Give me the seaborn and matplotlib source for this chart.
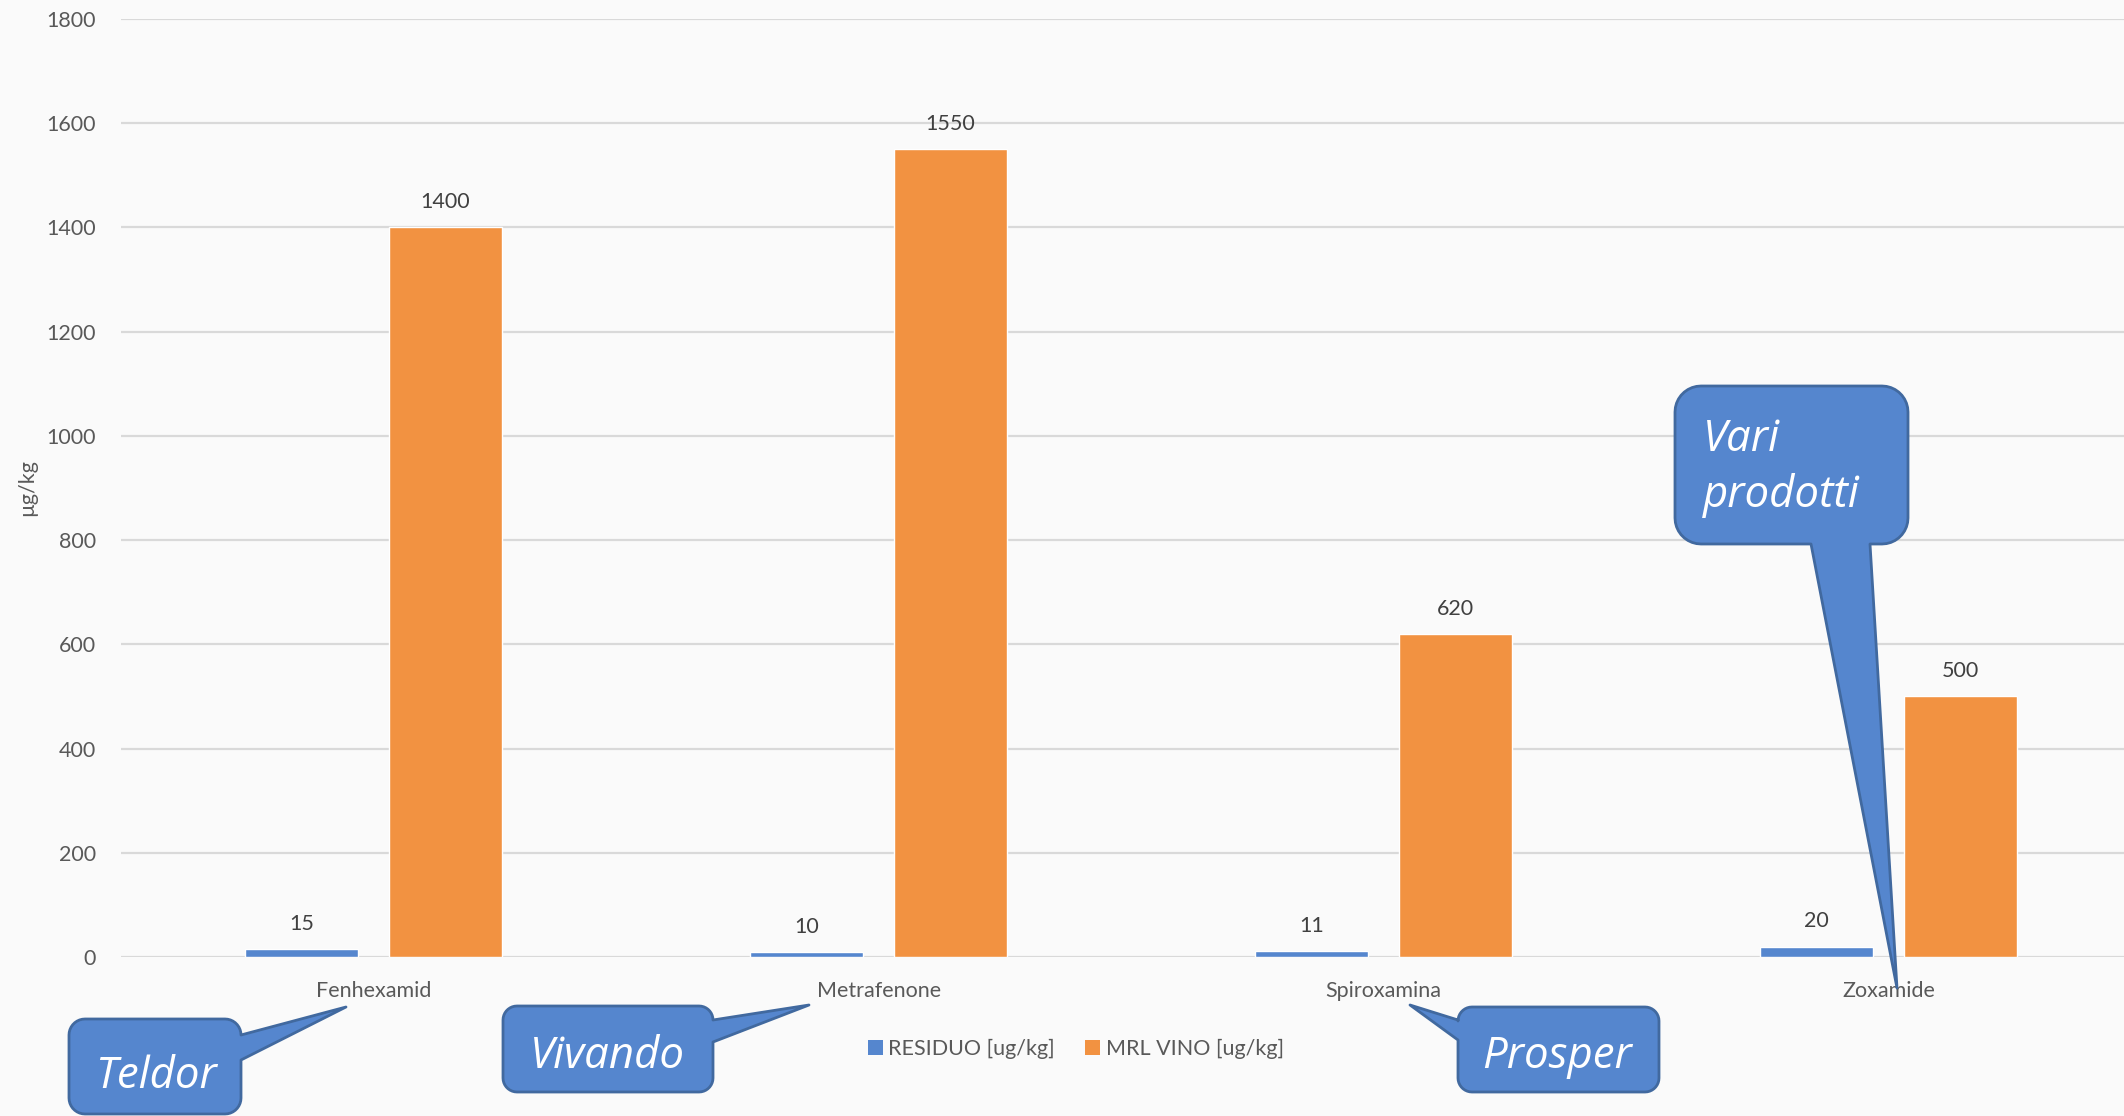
import numpy as np
import pandas as pd
import matplotlib
matplotlib.use("Agg")
import matplotlib.pyplot as plt
from matplotlib.patches import Polygon, Patch
import seaborn as sns

# Data
categories = ["Fenhexamid", "Metrafenone", "Spiroxamina", "Zoxamide"]
residuo = [15, 10, 11, 20]
mrl_vino = [1400, 1550, 620, 500]
series_names = ["RESIDUO [ug/kg]", "MRL VINO [ug/kg]"]
y_ticks = [0, 200, 400, 600, 800, 1000, 1200, 1400, 1600, 1800]

BLUE = "#5586CE"
ORANGE = "#F29241"
BG = "#FAFAFA"
GRID = "#D9D9D9"
TXT = "#595959"
LBL = "#404040"
EDGE = "#41699F"

df = pd.DataFrame({
    "Principio": categories * 2,
    "Valore": residuo + mrl_vino,
    "Serie": [series_names[0]] * len(categories) + [series_names[1]] * len(categories),
})

sns.set_theme(style="white")
plt.rcParams["font.family"] = ["Lato", "DejaVu Sans"]

W, H = 2124, 1116
fig = plt.figure(figsize=(W / 100, H / 100), dpi=100, facecolor=BG)
ax = fig.add_axes([121 / W, 1 - 957 / H, 1 - 121 / W, (957 - 19) / H])
ax.set_facecolor(BG)

sns.barplot(data=df, x="Principio", y="Valore", hue="Serie",
            palette=[BLUE, ORANGE], width=0.57, gap=0.215,
            saturation=1, legend=False, ax=ax, zorder=2)

for cont in ax.containers:
    ax.bar_label(cont, fmt="%g", padding=11, fontsize=15.5, color=LBL)

ax.set_ylim(0, 1800)
ax.set_xlim(-0.5, 3.466)
ax.set_yticks(y_ticks)
ax.set_yticklabels([str(t) for t in y_ticks])
ax.grid(axis="y", color=GRID, linewidth=1.6, zorder=0)
ax.set_axisbelow(True)
for s in ax.spines.values():
    s.set_visible(False)
ax.tick_params(axis="both", length=0, labelsize=15.5, labelcolor=TXT)
ax.tick_params(axis="y", pad=18)
ax.tick_params(axis="x", pad=17)
ax.set_xlabel("")
ax.set_ylabel("")

fig.text(27 / W, 1 - 488 / H, "µg/kg", rotation=90, ha="center", va="center",
         fontsize=15.5, color=TXT)

# Legend
handles = [Patch(facecolor=BLUE, edgecolor="none"), Patch(facecolor=ORANGE, edgecolor="none")]
fig.legend(handles, series_names, loc="center", bbox_to_anchor=(1076 / W, 1 - 1049 / H),
           ncol=2, frameon=False, fontsize=15.5, labelcolor=TXT,
           handlelength=0.7, handleheight=0.7, handletextpad=0.25, columnspacing=1.4)


def fxy(x, y):
    return (x / W, 1 - y / H)


def arc(cx, cy, r, a0, a1, n=10):
    t = np.linspace(np.radians(a0), np.radians(a1), n)
    return [(cx + r * np.cos(a), cy + r * np.sin(a)) for a in t]


def callout(box, r, side, base, tip):
    x0, y0, x1, y1 = box
    pts = []
    # walk the outline clockwise (y grows downward), inserting the pointer
    pts += arc(x0 + r, y0 + r, r, 180, 270)
    pts += arc(x1 - r, y0 + r, r, 270, 360)
    if side == "right":
        pts += [(x1, base[0]), tip, (x1, base[1])]
    pts += arc(x1 - r, y1 - r, r, 0, 90)
    if side == "bottom":
        pts += [(base[1], y1), tip, (base[0], y1)]
    pts += arc(x0 + r, y1 - r, r, 90, 180)
    if side == "left":
        pts += [(x0, base[1]), tip, (x0, base[0])]
    poly = Polygon([fxy(px, py) for px, py in pts], closed=True,
                   transform=fig.transFigure, facecolor=BLUE, edgecolor=EDGE,
                   linewidth=2, joinstyle="round", zorder=5)
    fig.add_artist(poly)


callout((69, 1019, 241, 1114), 16, "right", (1035, 1060), (346, 1007))
callout((503, 1006, 713, 1092), 14, "right", (1020, 1042), (809, 1005))
callout((1458, 1007, 1659, 1092), 14, "left", (1020, 1040), (1410, 1005))
callout((1675, 386, 1908, 544), 26, "bottom", (1811, 1870), (1897, 988))

cfont = dict(family=["Open Sans", "DejaVu Sans"], style="italic", fontsize=31.5,
             color="white", zorder=6)
fig.text(*fxy(156, 1088), "Teldor", ha="center", va="baseline", **cfont)
fig.text(*fxy(607, 1068), "Vivando", ha="center", va="baseline", **cfont)
fig.text(*fxy(1557, 1068), "Prosper", ha="center", va="baseline", **cfont)
fig.text(*fxy(1703, 451), "Vari", ha="left", va="baseline", **cfont)
fig.text(*fxy(1703, 507), "prodotti", ha="left", va="baseline", **cfont)

fig.savefig("out.png", dpi=100, facecolor=BG)
